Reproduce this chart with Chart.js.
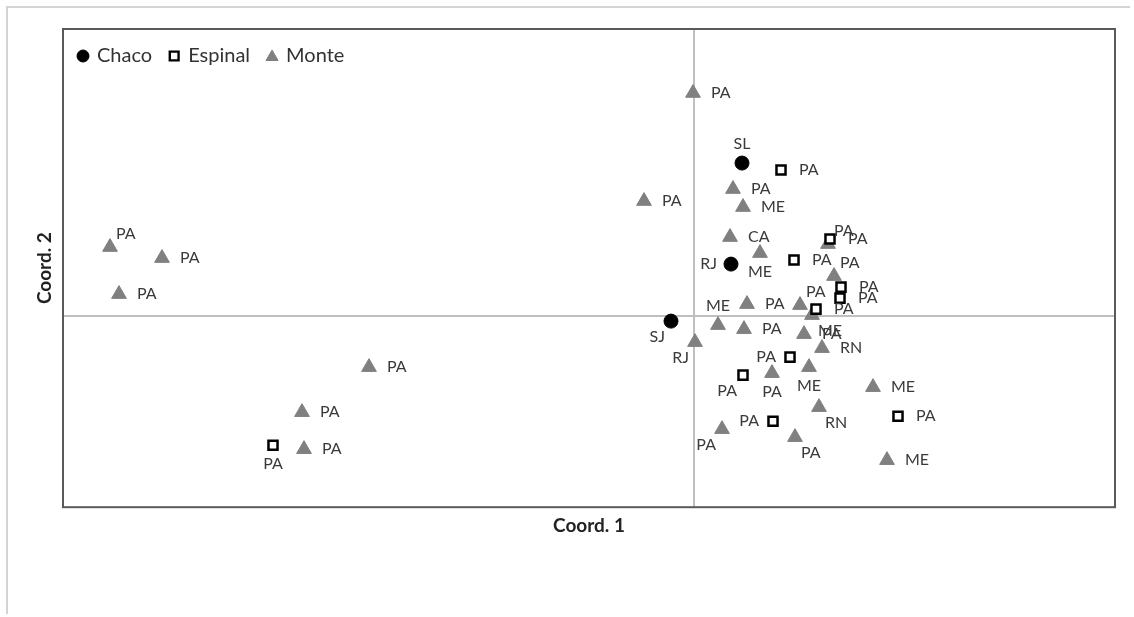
<!DOCTYPE html>
<html>
<head>
<meta charset="utf-8">
<script src="https://cdn.jsdelivr.net/npm/chart.js@4.4.1/dist/chart.umd.min.js"></script>
<style>
  html, body { margin: 0; padding: 0; background: #fff; }
  #wrap { position: relative; width: 1134px; height: 617px; }
  #frame { position: absolute; left: 6px; top: 6px; width: 1122px; height: 606px;
           border-top: 2px solid #d4d4d4; border-left: 2px solid #d4d4d4; pointer-events: none; }
  canvas { position: absolute; left: 0; top: 0; }
</style>
</head>
<body>
<div id="wrap">
  <canvas id="pcoa" width="1134" height="617"></canvas>
  <div id="frame"></div>
</div>
<script>
// Chaco sites
const chacoX = [0.048, 0.037, -0.023];
const chacoY = [0.153, 0.052, -0.005];
const chacoLabels = ['SL', 'RJ', 'SJ'];
const chacoPlace = ['t', 'l', 'bl'];

// Espinal sites
const espinalX = [0.087, 0.136, 0.100, 0.147, 0.146, 0.122, 0.096, 0.049, 0.079, 0.204, -0.421];
const espinalY = [0.146, 0.077, 0.056, 0.029, 0.018, 0.007, -0.041, -0.059, -0.105, -0.100, -0.129];
const espinalLabels = ['PA', 'PA', 'PA', 'PA', 'PA', 'PA', 'PA', 'PA', 'PA', 'PA', 'PA'];
const espinalPlace = ['r', 'r', 'r', 'r', 'r', 'r', 'l', 'bl', 'l', 'r', 'b'];

// Monte sites
const monteX = [-0.001, -0.050, 0.039, 0.049, 0.036, 0.066, 0.134, 0.140, 0.053, 0.106, 0.118, 0.024, 0.050, 0.110, 0.128,
                0.001, 0.115, 0.078, 0.179, 0.125, 0.028, 0.101, 0.193, -0.584, -0.532, -0.575, -0.325, -0.392, -0.390];
const monteY = [0.223, 0.115, 0.127, 0.109, 0.079, 0.063, 0.072, 0.040, 0.012, 0.011, 0.001, -0.009, -0.013, -0.018, -0.032,
                -0.026, -0.051, -0.057, -0.071, -0.091, -0.113, -0.121, -0.144, 0.069, 0.058, 0.022, -0.051, -0.096, -0.133];
const monteLabels = ['PA', 'PA', 'PA', 'ME', 'CA', 'ME', 'PA', 'PA', 'PA', 'PA', 'ME', 'ME', 'PA', 'PA', 'RN',
                     'RJ', 'ME', 'PA', 'ME', 'RN', 'PA', 'PA', 'ME', 'PA', 'PA', 'PA', 'PA', 'PA', 'PA'];
const montePlace = ['r', 'r', 'r', 'r', 'r', 'b', 'tr', 'tr', 'r', 'tr', 'br', 't', 'r', 'r', 'r',
                    'bl', 'b', 'b', 'r', 'br', 'bl', 'br', 'r', 'tr', 'r', 'r', 'r', 'r', 'r'];

const xRange = [-0.631, 0.421];
const yRange = [-0.191, 0.287];

const toPoints = (xs, ys) => xs.map((x, i) => ({ x: x, y: ys[i] }));

// label offsets from the point: [dx, dy, textAlign]
const labelOffsets = {
  r: [18, 0, 'left'], l: [-14, 0, 'right'], t: [0, -19, 'center'], b: [0, 19, 'center'],
  tr: [6, -13, 'left'], br: [6, 16, 'left'], bl: [-6, 16, 'right']
};

const pointLabelPlugin = {
  id: 'pointLabels',
  afterDatasetsDraw(chart) {
    const ctx = chart.ctx;
    ctx.save();
    ctx.font = '16px Lato';
    ctx.fillStyle = '#3a3a3a';
    ctx.textBaseline = 'middle';
    chart.data.datasets.forEach((ds, i) => {
      const meta = chart.getDatasetMeta(i);
      meta.data.forEach((pt, j) => {
        const [dx, dy, al] = labelOffsets[ds.place[j]];
        ctx.textAlign = al;
        ctx.fillText(ds.pointLabels[j], pt.x + dx, pt.y + dy);
      });
    });
    ctx.restore();
  }
};

// legend drawn inside the plot box, top-left, in one row
const insideLegend = {
  id: 'insideLegend',
  afterDraw(chart) {
    const { ctx, chartArea: a } = chart;
    let x = a.left + 20;
    const y = a.top + 27;
    ctx.save();
    ctx.font = '20px Lato';
    ctx.textBaseline = 'middle';
    ctx.textAlign = 'left';
    chart.data.datasets.forEach(ds => {
      ctx.fillStyle = ds.backgroundColor;
      ctx.strokeStyle = ds.borderColor;
      ctx.lineWidth = ds.pointStyle === 'rect' ? 2.4 : 1;
      const r = ds.pointStyle === 'rect' ? 6.2 : ds.pointStyle === 'triangle' ? 7 : 6;
      Chart.helpers.drawPoint(ctx, { pointStyle: ds.pointStyle, radius: r, rotation: 0, borderWidth: ctx.lineWidth }, x, y + (ds.pointStyle === 'triangle' ? 1 : 0));
      ctx.fillStyle = '#333';
      ctx.fillText(ds.label, x + 14, y);
      x += 14 + ctx.measureText(ds.label).width + 22;
    });
    ctx.restore();
  }
};

const frameBox = {
  id: 'frameBox',
  afterDraw(chart) {
    const { ctx, chartArea: a } = chart;
    ctx.save();
    ctx.strokeStyle = '#595959';
    ctx.lineWidth = 2;
    ctx.strokeRect(a.left, a.top, a.right - a.left, a.bottom - a.top);
    ctx.restore();
  }
};

const zeroOnly = scale => { scale.ticks = [{ value: 0 }]; };

document.fonts.load('16px Lato').then(() => document.fonts.load('bold 19px Lato')).then(() => {
  new Chart(document.getElementById('pcoa').getContext('2d'), {
    type: 'scatter',
    data: {
      datasets: [
        {
          label: 'Chaco',
          data: toPoints(chacoX, chacoY),
          pointLabels: chacoLabels,
          place: chacoPlace,
          pointStyle: 'circle',
          pointRadius: 7,
          backgroundColor: '#000',
          borderColor: '#000',
          borderWidth: 1
        },
        {
          label: 'Espinal',
          data: toPoints(espinalX, espinalY),
          pointLabels: espinalLabels,
          place: espinalPlace,
          pointStyle: 'rect',
          pointRadius: 6.4,
          backgroundColor: '#fff',
          borderColor: '#000',
          borderWidth: 2.5
        },
        {
          label: 'Monte',
          data: toPoints(monteX, monteY),
          pointLabels: monteLabels,
          place: montePlace,
          pointStyle: 'triangle',
          pointRadius: 8.5,
          backgroundColor: '#808080',
          borderColor: '#808080',
          borderWidth: 1
        }
      ]
    },
    options: {
      responsive: false,
      animation: false,
      devicePixelRatio: 1,
      layout: { padding: { top: 29, right: 19, bottom: 80, left: 33.6 } },
      plugins: {
        tooltip: { enabled: false },
        legend: { display: false }
      },
      scales: {
        x: {
          min: xRange[0],
          max: xRange[1],
          afterBuildTicks: zeroOnly,
          ticks: { display: false },
          border: { display: false },
          grid: { drawTicks: false, color: '#bfbfbf', lineWidth: 2 },
          title: {
            display: true,
            text: 'Coord. 1',
            color: '#222',
            font: { family: 'Lato', size: 19, weight: 'bold' },
            padding: { top: 7, bottom: 0 }
          }
        },
        y: {
          min: yRange[0],
          max: yRange[1],
          afterBuildTicks: zeroOnly,
          ticks: { display: false },
          border: { display: false },
          grid: { drawTicks: false, color: '#bfbfbf', lineWidth: 2 },
          title: {
            display: true,
            text: 'Coord. 2',
            color: '#222',
            font: { family: 'Lato', size: 19, weight: 'bold' },
            padding: { top: 0, bottom: 6.6 }
          }
        }
      }
    },
    plugins: [pointLabelPlugin, insideLegend, frameBox]
  });
});
</script>
</body>
</html>
